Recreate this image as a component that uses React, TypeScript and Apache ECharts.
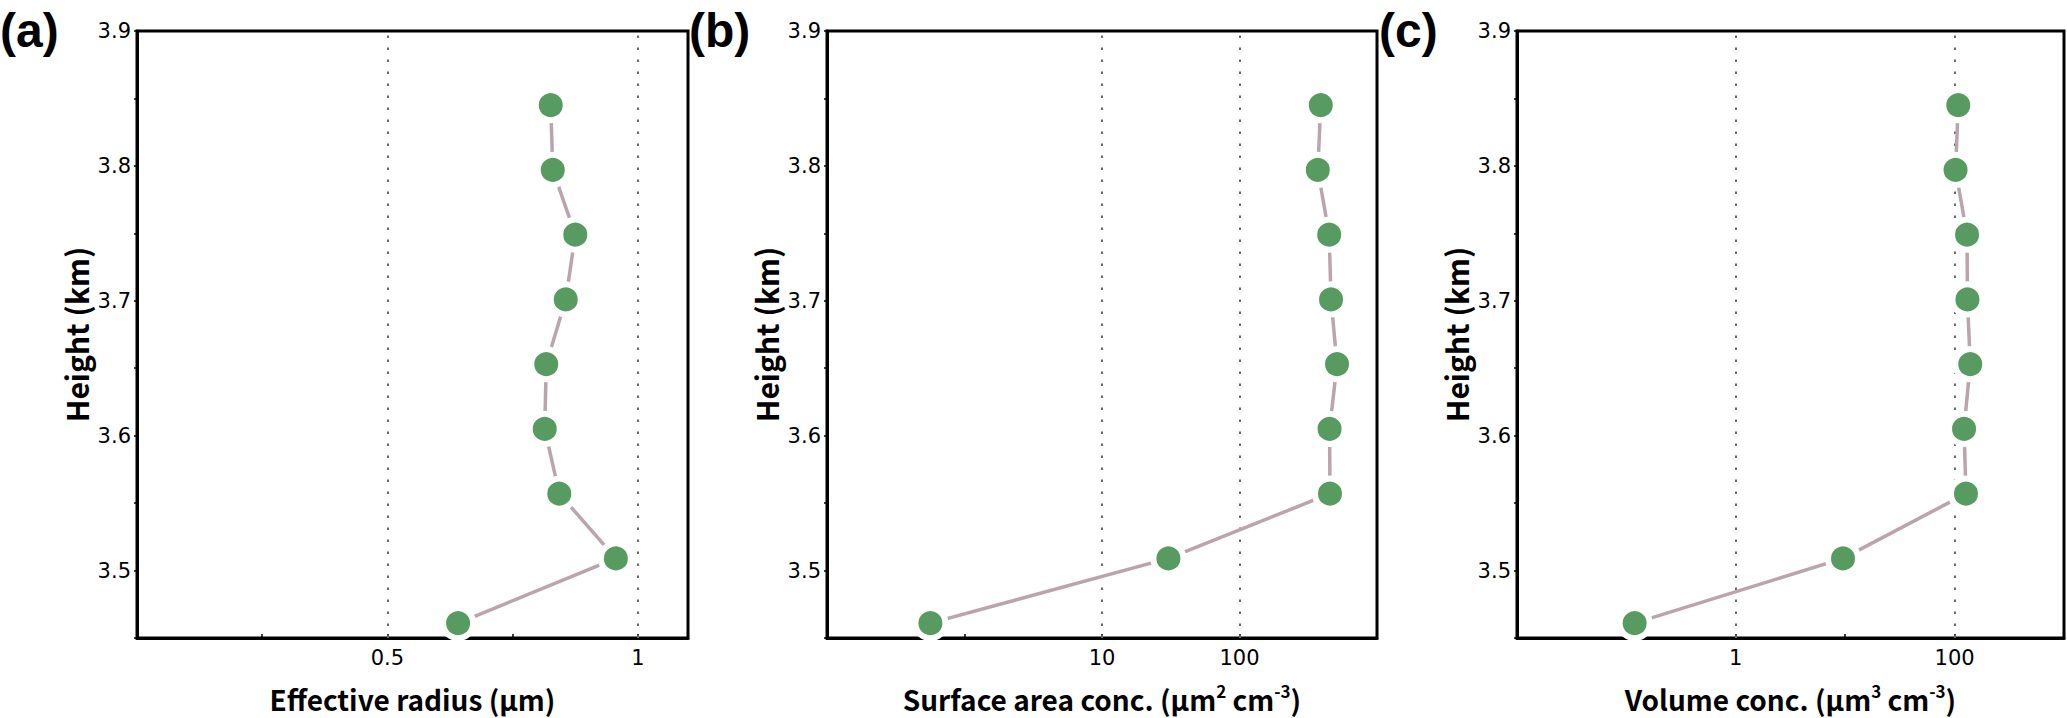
import { useEffect, useRef } from 'react';
import * as echarts from 'echarts';

// heights of the retrieval levels (km), bottom to top
const heights = [3.461, 3.509, 3.557, 3.605, 3.653, 3.701, 3.749, 3.797, 3.845];
// (a) effective radius, µm
const effRadius = [0.641, 0.956, 0.843, 0.814, 0.817, 0.856, 0.875, 0.83, 0.826];
// (b) surface area concentration, µm2 cm-3
const surfaceConc = [0.565, 30.4, 455, 452, 512, 463, 449, 371, 390];
// (c) volume concentration, µm3 cm-3
const volumeConc = [0.119, 9.55, 127, 122, 139, 131, 130, 102, 108];

const heightTicks = [3.5, 3.6, 3.7, 3.8, 3.9];
const radiusTicks = [0.5, 1];
const surfaceTicks = [10, 100];
const volumeTicks = [1, 100];
const panelLabels = ['(a)', '(b)', '(c)'];

const LINE_COLOR = '#bba4ad';
const DOT_COLOR = '#589b61';
const LABEL_FONT = 'DejaVu Sans';
const TITLE_FONT = 'Noto Sans CJK SC';

const near = (a: number, b: number) => Math.abs(a - b) < 1e-6;

function pairs(xs: number[]) {
  return xs.map((x, i) => [x, heights[i]]);
}

export default function App() {
  const chartRef = useRef<HTMLDivElement>(null);

  useEffect(() => {
    if (!chartRef.current) return;
    const chart = echarts.init(chartRef.current, null, { renderer: 'svg' });

    const grids = [
      { left: 137, top: 31, width: 551, height: 607 },
      { left: 827, top: 31, width: 550, height: 607 },
      { left: 1517, top: 31, width: 547, height: 607 },
    ];

    const tickLabel = {
      color: '#000',
      fontFamily: LABEL_FONT,
      fontSize: 21,
    };

    const yAxes = grids.map((_, i) => ({
      type: 'value' as const,
      gridIndex: i,
      min: 3.45,
      max: 3.9,
      interval: 0.05,
      name: 'Height (km)',
      nameLocation: 'middle' as const,
      nameRotate: 90,
      nameGap: 46,
      nameTextStyle: {
        color: '#000',
        fontFamily: TITLE_FONT,
        fontWeight: 'bold' as const,
        fontSize: 30,
      },
      axisLine: { show: true, lineStyle: { color: '#000', width: 3 } },
      axisTick: { show: true, inside: false, length: 3, lineStyle: { color: '#000', width: 1.5 } },
      axisLabel: {
        ...tickLabel,
        margin: 6,
        formatter: (v: number) =>
          heightTicks.some((t) => near(t, v)) ? v.toFixed(1) : '',
      },
      splitLine: { show: false },
    }));

    const sup = (s: string) => `{s|${s}}`;
    const main = (s: string) => `{a|${s}}`;
    const nameRich = {
      a: { fontFamily: TITLE_FONT, fontWeight: 'bold' as const, fontSize: 28, color: '#000', lineHeight: 34 },
      s: {
        fontFamily: TITLE_FONT,
        fontWeight: 'bold' as const,
        fontSize: 17,
        color: '#000',
        lineHeight: 20,
        verticalAlign: 'top' as const,
      },
    };

    const xCommon = {
      nameLocation: 'middle' as const,
      nameGap: 44,
      nameTextStyle: { rich: nameRich },
      axisLine: { show: true, lineStyle: { color: '#000', width: 3 } },
      axisTick: { show: true, inside: true, length: 4, lineStyle: { color: '#000', width: 1.5 } },
      splitLine: { show: false },
    };

    const xAxes = [
      {
        ...xCommon,
        type: 'value' as const,
        gridIndex: 0,
        min: 0,
        max: 1.1,
        interval: 0.25,
        name: main('Effective radius (μm)'),
        axisLabel: {
          ...tickLabel,
          margin: 10,
          formatter: (v: number) =>
            radiusTicks.some((t) => near(t, v)) ? String(v) : '',
        },
      },
      {
        ...xCommon,
        type: 'log' as const,
        logBase: 10,
        gridIndex: 1,
        min: 0.1,
        max: 1000,
        name:
          main('Surface area conc. (μm') + sup('2') + main(' cm') + sup('-3') + main(')'),
        axisLabel: {
          ...tickLabel,
          margin: 10,
          formatter: (v: number) => {
            const t = surfaceTicks.find((k) => near(Math.log10(k), Math.log10(v)));
            return t === undefined ? '' : String(t);
          },
        },
      },
      {
        ...xCommon,
        type: 'log' as const,
        logBase: 10,
        gridIndex: 2,
        min: 0.01,
        max: 1000,
        name: main('Volume conc. (μm') + sup('3') + main(' cm') + sup('-3') + main(')'),
        axisLabel: {
          ...tickLabel,
          margin: 10,
          formatter: (v: number) => {
            const t = volumeTicks.find((k) => near(Math.log10(k), Math.log10(v)));
            return t === undefined ? '' : String(t);
          },
        },
      },
    ];

    const guides = [radiusTicks, surfaceTicks, volumeTicks];
    const values = [effRadius, surfaceConc, volumeConc];

    const series = values.map((vals, i) => ({
      type: 'line' as const,
      xAxisIndex: i,
      yAxisIndex: i,
      data: pairs(vals),
      symbol: 'circle',
      symbolSize: 30,
      lineStyle: { color: LINE_COLOR, width: 3.5 },
      itemStyle: { color: DOT_COLOR, borderColor: '#fff', borderWidth: 6 },
      markLine: {
        silent: true,
        symbol: ['none', 'none'],
        label: { show: false },
        lineStyle: { color: '#6a6a6a', width: 2, type: [2.5, 9.5] as any },
        data: guides[i].map((g) => ({ xAxis: g })),
        z: 1,
      },
    }));

    const labelX = [0, 689, 1379];

    chart.setOption({
      animation: false,
      backgroundColor: '#fff',
      grid: grids.map((g) => ({
        ...g,
        show: true,
        borderColor: '#000',
        borderWidth: 3,
        backgroundColor: 'transparent',
      })),
      xAxis: xAxes,
      yAxis: yAxes,
      series,
      graphic: panelLabels.map((t, i) => ({
        type: 'text',
        left: labelX[i],
        top: 6,
        style: {
          text: t,
          fontFamily: 'Liberation Sans',
          fontWeight: 'bold',
          fontSize: 48,
          fill: '#000',
        },
      })),
    });

    return () => {
      chart.dispose();
    };
  }, []);

  return (
    <div
      ref={chartRef}
      style={{ position: 'fixed', left: 0, top: 0, width: '2067px', height: '718px' }}
    />
  );
}
